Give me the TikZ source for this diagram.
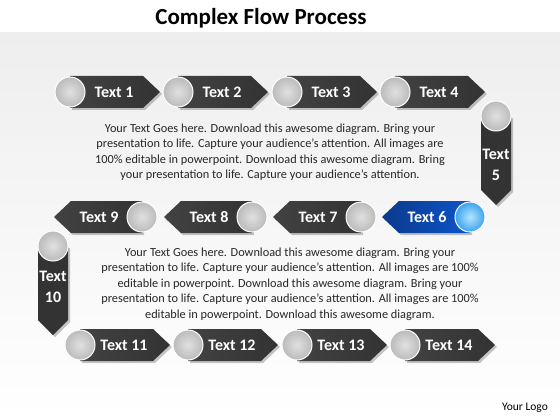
\documentclass[tikz,border=0pt]{standalone}
\usepackage{fontspec}
\setmainfont{Carlito}
\definecolor{bgTop}{HTML}{EEEEEE}
\definecolor{gA}{HTML}{424242}
\definecolor{gB}{HTML}{646464}
\definecolor{gC}{HTML}{333333}
\definecolor{bA}{HTML}{0B3A8C}
\definecolor{bB}{HTML}{1A5CC0}
\definecolor{bC}{HTML}{0D55C8}
\definecolor{ballIn}{HTML}{E0E0E0}
\definecolor{ballOut}{HTML}{BBBBBB}
\definecolor{bballIn}{HTML}{B4E6FF}
\definecolor{bballOut}{HTML}{3BA3EE}
\definecolor{txt}{HTML}{262626}
\tikzset{
  graybody/.style={left color=gA, middle color=gB, right color=gC},
  bluebody/.style={left color=bA, middle color=bB, right color=bC},
  vbody/.style={left color=gC, middle color=gB, right color=gC},
  shadowfill/.style={fill=black, opacity=.22},
  ball/.style={circle, minimum size=30pt, inner sep=0pt, draw=white, line width=1pt, inner color=ballIn, outer color=ballOut},
  blueball/.style={circle, minimum size=30pt, inner sep=0pt, draw=white, line width=1pt, inner color=bballIn, outer color=bballOut},
  lbl/.style={text=white, font=\fontsize{16}{19}\selectfont\bfseries, inner sep=0pt},
  vlbl/.style={text=white, font=\fontsize{16}{21}\selectfont\bfseries, align=center, inner sep=0pt},
  para/.style={text=txt, font=\fontsize{12.3}{15.5}\selectfont, align=center, inner sep=0pt}
}
\newcommand{\RArrow}[4]{%
  \fill[shadowfill] ({#1+2},{#2-14}) -- ({#1+75},{#2-14}) -- ({#1+92},{#2+2}) -- ({#1+75},{#2+18}) -- ({#1+2},{#2+18}) -- cycle;
  \shade[graybody] (#1,{#2-16}) -- ({#1+73},{#2-16}) -- ({#1+90},#2) -- ({#1+73},{#2+16}) -- (#1,{#2+16}) -- cycle;
  \node[lbl] (#4) at ({#1+44},#2) {#3};
  \node[ball] (#4c) at (#1,#2) {};
}
\newcommand{\LArrow}[6]{%
  \fill[shadowfill] ({#1+2},{#2-14}) -- ({#1-69},{#2-14}) -- ({#1-86},{#2+2}) -- ({#1-69},{#2+18}) -- ({#1+2},{#2+18}) -- cycle;
  \shade[#5] (#1,{#2-16}) -- ({#1-71},{#2-16}) -- ({#1-88},#2) -- ({#1-71},{#2+16}) -- (#1,{#2+16}) -- cycle;
  \node[lbl] (#4) at ({#1-43},#2) {#3};
  \node[#6] (#4c) at (#1,#2) {};
}
\newcommand{\DArrow}[5]{%
  \fill[shadowfill] ({#1-13},{#2+2}) -- ({#1+17},{#2+2}) -- ({#1+17},{#2+76}) -- ({#1+2},{#2+91}) -- ({#1-13},{#2+76}) -- cycle;
  \shade[vbody] ({#1-15},#2) -- ({#1+15},#2) -- ({#1+15},{#2+74}) -- (#1,{#2+89}) -- ({#1-15},{#2+74}) -- cycle;
  \node[vlbl] (#4) at (#1,{#2+#5}) {#3};
  \node[ball] (#4c) at (#1,#2) {};
}
\begin{document}
\begin{tikzpicture}[x=1pt,y=-1pt]
\useasboundingbox (0,0) rectangle (560,420);
\fill[white] (0,0) rectangle (560,420);
\shade[top color=bgTop, bottom color=white] (0,33) rectangle (560,420);
\node[text=black, font=\fontsize{23}{27}\selectfont\bfseries] (title) at (261,18) {Complex Flow Process};
% row 1
\RArrow{70}{92}{Text 1}{t1}
\RArrow{178}{92}{Text 2}{t2}
\RArrow{287}{92}{Text 3}{t3}
\RArrow{395}{92}{Text 4}{t4}
\DArrow{496}{116}{Text\\5}{t5}{49}
% row 2
\LArrow{142}{217}{Text 9}{t9}{graybody}{ball}
\LArrow{252}{217}{Text 8}{t8}{graybody}{ball}
\LArrow{361}{217}{Text 7}{t7}{graybody}{ball}
\LArrow{470}{217}{Text 6}{t6}{bluebody}{blueball}
\DArrow{53}{246}{Text\\10}{t10}{41}
% row 3
\RArrow{80}{345}{Text 11}{t11}
\RArrow{188}{345}{Text 12}{t12}
\RArrow{297}{345}{Text 13}{t13}
\RArrow{405}{345}{Text 14}{t14}
% paragraphs
\node[para] (p1) at (270,152) {Your Text Goes here. Download this awesome diagram. Bring your\\presentation to life. Capture your audience’s attention. All images are\\100\% editable in powerpoint. Download this awesome diagram. Bring\\your presentation to life. Capture your audience’s attention.};
\node[para] (p2) at (290,284) {Your Text Goes here. Download this awesome diagram. Bring your\\presentation to life. Capture your audience’s attention. All images are 100\%\\editable in powerpoint. Download this awesome diagram. Bring your\\presentation to life. Capture your audience’s attention. All images are 100\%\\editable in powerpoint. Download this awesome diagram.};
\node[text=black, font=\fontsize{11.5}{13}\selectfont, inner sep=0pt] (logo) at (525,408) {Your Logo};
\end{tikzpicture}
\end{document}
